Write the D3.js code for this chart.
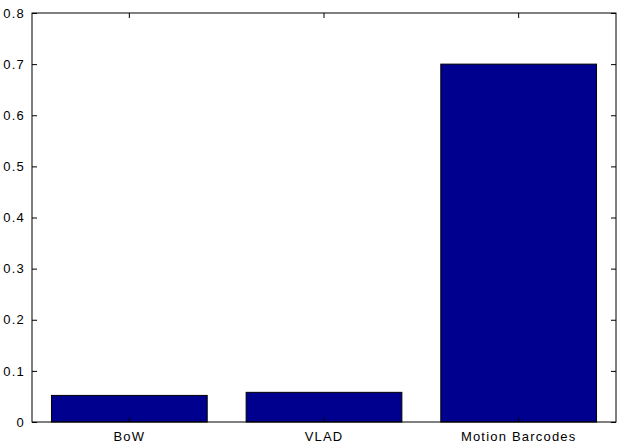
<!DOCTYPE html>
<html>
<head>
<meta charset="utf-8">
<script src="https://cdn.jsdelivr.net/npm/d3@7"></script>
<style>
body { margin: 0; background: #fff; }
text { font-family: "Liberation Sans", Arial, sans-serif; font-size: 13px; fill: #000; }
</style>
</head>
<body>
<svg id="chart" width="620" height="447"></svg>
<script>
var categories = ["BoW", "VLAD", "Motion Barcodes"]
var values = [0.052, 0.058, 0.70]
var yTicks = [0, 0.1, 0.2, 0.3, 0.4, 0.5, 0.6, 0.7, 0.8]

var plotLeft = 32, plotRight = 616, plotTop = 13, plotBottom = 422

var svg = d3.select("#chart")

var x = d3.scaleBand().domain(categories).range([plotLeft, plotRight]).paddingInner(0.2).paddingOuter(0.1)
var y = d3.scaleLinear().domain([0, 0.8]).range([plotBottom, plotTop])

// bars
svg.selectAll("rect.bar")
    .data(values)
    .enter().append("rect")
    .attr("class", "bar")
    .attr("x", function(d, i){ return x(categories[i]) })
    .attr("y", function(d){ return y(d) })
    .attr("width", x.bandwidth())
    .attr("height", function(d){ return plotBottom - y(d) })
    .attr("fill", "#00008f")
    .attr("stroke", "#000")
    .attr("stroke-width", 1)

// box
svg.append("rect")
    .attr("x", plotLeft).attr("y", plotTop)
    .attr("width", plotRight - plotLeft).attr("height", plotBottom - plotTop)
    .attr("fill", "none").attr("stroke", "#000").attr("stroke-width", 1)

var yAxis = d3.axisLeft(y).tickValues(yTicks).tickSize(-5).tickPadding(7).tickFormat(d3.format("~g"))
var yAxisRight = d3.axisRight(y).tickValues(yTicks).tickSize(-5).tickFormat("")
var xAxis = d3.axisBottom(x).tickSize(-5).tickPadding(10)
var xAxisTop = d3.axisTop(x).tickSize(-5).tickFormat("")

svg.append("g").attr("transform", "translate(" + plotLeft + ",0)").call(yAxis)
svg.append("g").attr("transform", "translate(" + plotRight + ",0)").call(yAxisRight)
svg.append("g").attr("transform", "translate(0," + plotBottom + ")").call(xAxis)
svg.append("g").attr("transform", "translate(0," + plotTop + ")").call(xAxisTop)

svg.selectAll(".domain").remove()
svg.selectAll(".tick line").attr("stroke", "#000")
svg.selectAll(".tick text")
    .style("font-size", "13px")
    .style("font-family", "'Liberation Sans', Arial, sans-serif")
    .style("letter-spacing", "1.2px")
    .attr("fill", "#000")
</script>
</body>
</html>
